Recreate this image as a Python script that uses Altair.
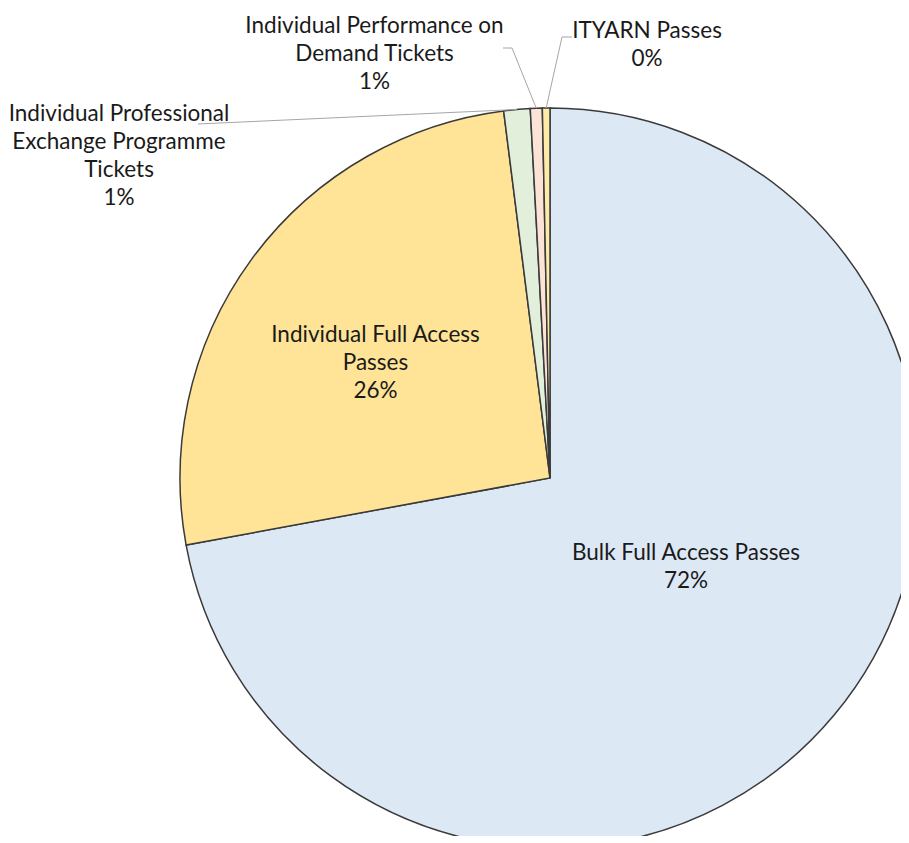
import math
import altair as alt
import pandas as pd

# ---- data ----
categories = [
    "Bulk Full Access Passes",
    "Individual Full Access Passes",
    "Individual Professional Exchange Programme Tickets",
    "Individual Performance on Demand Tickets",
    "ITYARN Passes",
]
values = [72.1, 25.9, 1.15, 0.52, 0.33]

# ---- layout / style ----
colors = ["#DDE8F5", "#FFE497", "#E2EFDA", "#FBE3D6", "#FFEBA8"]
label_wraps = [
    ["Bulk Full Access Passes"],
    ["Individual Full Access", "Passes"],
    ["Individual Professional", "Exchange Programme", "Tickets"],
    ["Individual Performance on", "Demand Tickets"],
    ["ITYARN Passes"],
]
# label anchor (x center, first baseline) in view pixels
label_pos = [(678, 552), (367.5, 334), (111, 113), (366.5, 25), (639, 30)]
# leader line start points (None = no leader)
leader_start = [None, None, [(190, 116)], [(495, 40), (504, 40)], [(564, 29), (554, 29)]]

CX, CY, R = 542, 470, 370

total = sum(values)
pcts = [round(v / total * 100) for v in values]

df = pd.DataFrame({
    "category": categories,
    "value": values,
    "order": list(range(len(categories))),
})

# text table
tdf = pd.DataFrame({
    "category": categories,
    "label": ["\n".join(w + [f"{p}%"]) for w, p in zip(label_wraps, pcts)],
    "tx": [p[0] for p in label_pos],
    "ty": [p[1] for p in label_pos],
})

# leader lines: from label anchor to slice mid-angle on the rim
rows = []
cum = 0.0
for cat, v, ls in zip(categories, values, leader_start):
    mid = (cum + v / 2) / total * 2 * math.pi
    cum += v
    if ls is None:
        continue
    pts = list(ls) + [(CX + R * math.sin(mid), CY - R * math.cos(mid))]
    for i, (px, py) in enumerate(pts):
        rows.append({"category": cat, "seq": i, "lx": px, "ly": py})
ldf = pd.DataFrame(rows)

arc = alt.Chart(df).mark_arc(
    radius=R, stroke="#3a3a3a", strokeWidth=1.5
).encode(
    theta=alt.Theta("value:Q", stack=True),
    color=alt.Color("category:N", scale=alt.Scale(domain=categories, range=colors), legend=None),
    order=alt.Order("order:Q"),
    x=alt.value(CX),
    y=alt.value(CY),
)

lines = alt.Chart(ldf).mark_line(color="#a6a6a6", strokeWidth=1).encode(
    x=alt.X("lx:Q", scale=None, axis=None),
    y=alt.Y("ly:Q", scale=None, axis=None),
    detail="category:N",
    order="seq:Q",
)

texts = alt.Chart(tdf).mark_text(
    font="Lato", fontSize=22.5, lineHeight=28, align="center",
    baseline="alphabetic", color="#1a1a1a", lineBreak="\n",
).encode(
    x=alt.X("tx:Q", scale=None, axis=None),
    y=alt.Y("ty:Q", scale=None, axis=None),
    text="label:N",
)

chart = alt.layer(arc, lines, texts).properties(
    width=893, height=828, padding=0,
    autosize=alt.AutoSizeParams(type="none"),
).configure_view(stroke=None)

chart.save("out.html", embed_options={"renderer": "svg", "actions": False})
